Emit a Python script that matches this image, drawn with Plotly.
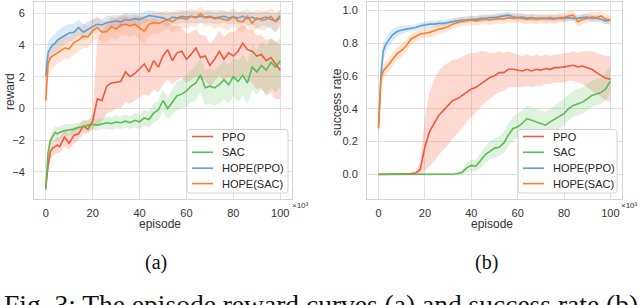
import plotly.graph_objects as go

# ---------------- data ----------------
episodes = [0, 1, 2, 3, 4, 5, 6, 8, 10, 12, 14, 16, 18, 20, 22, 24, 26, 28, 30, 32, 34, 36, 38, 40,
            42, 44, 46, 48, 50, 52, 54, 56, 58, 60, 62, 64, 66, 68, 70, 72, 74, 76, 78, 80,
            82, 84, 86, 88, 90, 92, 94, 96, 98, 100]
x_ticks = [0, 20, 40, 60, 80, 100]
reward_ticks = [-4, -2, 0, 2, 4, 6]
success_ticks = [0.0, 0.2, 0.4, 0.6, 0.8, 1.0]
series_names = ["PPO", "SAC", "HOPE(PPO)", "HOPE(SAC)"]

# (a) reward
rew_ppo = [-5.0, -3.6, -2.7, -2.5, -2.4, -2.3, -2.4, -1.8, -2.2, -1.7, -1.6, -1.1, -1.3, -0.8, 0.6, 0.5,
           1.4, 1.6, 1.65, 1.7, 2.3, 2.0, 2.2, 2.5, 2.8, 2.3, 3.0, 2.6, 3.3, 3.7, 3.0, 3.5, 3.6, 3.1,
           3.4, 3.8, 3.2, 3.3, 2.7, 3.1, 3.6, 3.1, 3.5, 3.3, 3.6, 4.1, 3.7, 3.6, 3.3, 3.4, 3.0, 3.2, 2.8, 2.4]
rew_ppo_lo = [-5.3, -4.0, -3.2, -3.0, -2.9, -2.8, -2.8, -2.4, -2.6, -2.2, -2.0, -1.6, -1.6, -1.3, -1.0, -0.8,
              -0.3, -0.2, 0.0, 0.0, 0.4, 0.3, 0.5, 0.7, 0.9, 0.8, 1.2, 1.0, 1.5, 1.8, 1.5, 1.8, 1.9, 1.6,
              1.8, 2.0, 1.8, 1.8, 1.4, 1.7, 2.1, 1.7, 2.0, 1.8, 1.9, 2.2, 1.8, 1.6, 1.2, 1.3, 0.8, 1.0, 0.6, 0.6]
rew_ppo_hi = [-4.7, -3.2, -2.2, -2.0, -1.9, -1.8, -1.8, -1.3, -1.6, -1.2, -1.1, -0.7, -0.8, -0.3, 4.3, 4.9,
              5.3, 5.6, 5.7, 5.8, 5.8, 5.7, 5.8, 5.8, 5.8, 5.6, 5.7, 5.5, 5.4, 5.5, 5.2, 5.2, 5.1, 4.7,
              4.8, 5.0, 4.6, 4.6, 4.1, 4.4, 4.9, 4.5, 4.8, 4.8, 5.0, 5.3, 5.0, 4.9, 4.6, 4.6, 4.3, 4.4, 4.2, 4.0]

rew_sac = [-5.1, -2.8, -2.0, -1.7, -1.5, -1.6, -1.5, -1.4, -1.35, -1.3, -1.2, -1.15, -1.05, -1.0, -1.05, -0.95,
           -0.9, -0.95, -0.85, -0.9, -0.8, -0.9, -0.75, -0.85, -0.6, -0.7, -0.3, -0.1, 0.5, 0.0, 0.4, 0.8,
           0.9, 1.1, 1.4, 1.6, 2.1, 1.3, 1.4, 1.3, 1.5, 1.8, 1.5, 2.0, 1.7, 2.1, 1.6, 2.6, 2.3, 2.7, 2.4, 2.9, 2.6, 3.0]
rew_sac_lo = [-5.4, -3.2, -2.4, -2.1, -1.9, -2.0, -1.9, -1.8, -1.7, -1.65, -1.55, -1.5, -1.4, -1.35, -1.4, -1.3,
              -1.3, -1.35, -1.25, -1.3, -1.2, -1.3, -1.2, -1.3, -1.1, -1.2, -0.9, -0.7, -0.2, -0.7, -0.4, -0.1,
              0.0, 0.1, 0.4, 0.5, 1.0, 0.2, 0.3, 0.2, 0.3, 0.6, 0.3, 0.8, 0.4, 0.8, 0.3, 1.2, 0.9, 1.2, 0.9, 1.3, 1.0, 1.4]
rew_sac_hi = [-4.8, -2.4, -1.6, -1.3, -1.1, -1.2, -1.1, -1.0, -1.0, -0.95, -0.85, -0.8, -0.7, -0.65, -0.7, -0.6,
              -0.5, -0.55, -0.45, -0.5, -0.4, -0.5, -0.3, -0.4, -0.1, -0.2, 0.3, 0.5, 1.2, 0.7, 1.2, 1.7,
              1.8, 2.1, 2.4, 2.7, 3.2, 2.4, 2.5, 2.4, 2.7, 3.0, 2.7, 3.2, 3.0, 3.4, 2.9, 4.0, 3.7, 4.2, 3.9, 4.4, 4.2, 4.4]

rew_hppo = [2.0, 3.5, 3.8, 4.0, 4.1, 4.3, 4.4, 4.6, 4.75, 4.8, 5.1, 4.8, 5.0, 5.15, 5.3, 5.25,
            5.4, 5.45, 5.5, 5.45, 5.6, 5.55, 5.65, 5.6, 5.75, 5.85, 5.8, 5.75, 5.7, 5.55, 5.75, 5.7,
            5.8, 5.75, 5.8, 5.75, 5.8, 5.75, 5.8, 5.7, 5.75, 5.8, 5.7, 5.75, 5.7, 5.8, 5.65, 5.75, 5.6, 5.7, 5.75, 5.6, 5.5, 5.85]
rew_hppo_lo = [0.3, 2.8, 3.2, 3.4, 3.5, 3.7, 3.8, 4.0, 4.2, 4.3, 4.6, 4.3, 4.5, 4.7, 4.9, 4.8,
               5.0, 5.05, 5.1, 5.05, 5.2, 5.15, 5.25, 5.2, 5.35, 5.45, 5.4, 5.35, 5.3, 5.15, 5.35, 5.3,
               5.4, 5.35, 5.4, 5.35, 5.4, 5.35, 5.4, 5.3, 5.35, 5.4, 5.3, 5.35, 5.3, 5.4, 5.2, 5.3, 5.0, 5.2, 5.2, 5.0, 4.8, 5.4]
rew_hppo_hi = [3.0, 4.2, 4.4, 4.6, 4.7, 4.9, 5.0, 5.2, 5.3, 5.35, 5.6, 5.3, 5.5, 5.6, 5.7, 5.65,
               5.8, 5.85, 5.9, 5.85, 6.0, 5.95, 6.0, 6.0, 6.1, 6.2, 6.15, 6.1, 6.05, 5.95, 6.1, 6.05,
               6.15, 6.1, 6.15, 6.1, 6.15, 6.1, 6.15, 6.05, 6.1, 6.15, 6.05, 6.1, 6.05, 6.15, 6.0, 6.1, 6.0, 6.05, 6.1, 6.0, 5.95, 6.2]

rew_hsac = [0.5, 2.8, 3.2, 3.3, 3.4, 3.5, 3.6, 3.8, 3.75, 4.15, 4.3, 4.55, 4.5, 4.9, 5.1, 4.8,
            4.85, 5.15, 5.0, 5.25, 5.3, 5.2, 5.3, 5.1, 4.85, 5.3, 5.4, 5.35, 5.5, 5.6, 5.45, 5.65,
            5.7, 5.6, 5.8, 5.7, 5.95, 5.7, 5.75, 5.65, 5.7, 5.6, 5.55, 5.8, 5.5, 5.45, 5.8, 5.35, 5.7, 5.55, 5.6, 5.8, 5.45, 5.7]
rew_hsac_lo = [-0.5, 1.8, 2.4, 2.6, 2.7, 2.8, 2.9, 3.1, 3.1, 3.4, 3.6, 3.8, 3.8, 4.2, 4.4, 4.1,
               4.2, 4.5, 4.3, 4.6, 4.6, 4.5, 4.6, 4.3, 4.1, 4.6, 4.7, 4.7, 4.9, 5.0, 4.8, 5.0,
               5.1, 5.0, 5.2, 5.1, 5.4, 5.1, 5.2, 5.0, 5.1, 5.0, 4.9, 5.2, 4.9, 4.8, 5.2, 4.7, 5.1, 4.9, 5.0, 5.2, 4.8, 5.1]
rew_hsac_hi = [1.5, 3.6, 4.0, 4.1, 4.2, 4.3, 4.4, 4.6, 4.5, 4.9, 5.0, 5.3, 5.2, 5.6, 5.8, 5.5,
               5.5, 5.8, 5.7, 5.9, 5.95, 5.85, 5.95, 5.8, 5.6, 5.95, 6.0, 6.0, 6.1, 6.15, 6.05, 6.2,
               6.25, 6.15, 6.3, 6.2, 6.4, 6.2, 6.25, 6.2, 6.2, 6.15, 6.1, 6.3, 6.05, 6.05, 6.3, 6.0, 6.25, 6.1, 6.15, 6.3, 6.05, 6.2]

# (b) success rate
suc_ppo = [0.0, 0.0, 0.0, 0.0, 0.0, 0.0, 0.0, 0.002, 0.003, 0.004, 0.005, 0.008, 0.03, 0.17, 0.26, 0.31,
           0.36, 0.39, 0.42, 0.45, 0.46, 0.48, 0.5, 0.52, 0.53, 0.55, 0.57, 0.59, 0.6, 0.62, 0.62, 0.64,
           0.64, 0.635, 0.63, 0.64, 0.63, 0.64, 0.635, 0.645, 0.64, 0.65, 0.65, 0.655, 0.66, 0.665, 0.655, 0.66,
           0.65, 0.64, 0.62, 0.6, 0.585, 0.58]
suc_ppo_lo = [0.0, 0.0, 0.0, 0.0, 0.0, 0.0, 0.0, 0.0, 0.0, 0.0, 0.0, 0.0, 0.0, 0.02, 0.05, 0.08,
              0.12, 0.15, 0.18, 0.22, 0.25, 0.28, 0.32, 0.35, 0.38, 0.41, 0.44, 0.46, 0.48, 0.5, 0.51, 0.53,
              0.53, 0.53, 0.53, 0.54, 0.53, 0.54, 0.54, 0.55, 0.55, 0.56, 0.56, 0.56, 0.57, 0.57, 0.56, 0.55,
              0.53, 0.51, 0.49, 0.47, 0.45, 0.44]
suc_ppo_hi = [0.0, 0.0, 0.0, 0.0, 0.0, 0.0, 0.0, 0.005, 0.01, 0.01, 0.012, 0.02, 0.08, 0.35, 0.5, 0.58,
              0.63, 0.66, 0.68, 0.7, 0.7, 0.72, 0.73, 0.74, 0.74, 0.75, 0.75, 0.74, 0.74, 0.75, 0.74, 0.75,
              0.74, 0.73, 0.72, 0.73, 0.72, 0.73, 0.72, 0.73, 0.72, 0.73, 0.73, 0.74, 0.74, 0.75, 0.74, 0.75,
              0.75, 0.75, 0.74, 0.73, 0.72, 0.72]

suc_sac = [0.0, 0.0, 0.0, 0.0, 0.0, 0.0, 0.0, 0.0, 0.0, 0.0, 0.0, 0.0, 0.0, 0.0, 0.0, 0.0,
           0.0, 0.002, 0.0, 0.001, 0.005, 0.012, 0.04, 0.055, 0.05, 0.085, 0.12, 0.14, 0.16, 0.165, 0.19, 0.24,
           0.28, 0.29, 0.31, 0.34, 0.33, 0.32, 0.31, 0.3, 0.32, 0.335, 0.35, 0.37, 0.4, 0.42, 0.43, 0.44,
           0.46, 0.48, 0.49, 0.5, 0.52, 0.57]
suc_sac_lo = [0.0, 0.0, 0.0, 0.0, 0.0, 0.0, 0.0, 0.0, 0.0, 0.0, 0.0, 0.0, 0.0, 0.0, 0.0, 0.0,
              0.0, 0.0, 0.0, 0.0, 0.0, 0.0, 0.01, 0.02, 0.02, 0.04, 0.07, 0.09, 0.1, 0.11, 0.13, 0.17,
              0.21, 0.22, 0.24, 0.27, 0.26, 0.25, 0.24, 0.23, 0.25, 0.26, 0.28, 0.3, 0.33, 0.35, 0.36, 0.37,
              0.39, 0.41, 0.42, 0.43, 0.45, 0.5]
suc_sac_hi = [0.003, 0.003, 0.003, 0.003, 0.003, 0.003, 0.003, 0.003, 0.003, 0.003, 0.003, 0.003, 0.003, 0.003, 0.003, 0.003,
              0.003, 0.006, 0.003, 0.005, 0.015, 0.03, 0.07, 0.09, 0.09, 0.13, 0.17, 0.2, 0.22, 0.23, 0.26, 0.31,
              0.35, 0.37, 0.39, 0.42, 0.41, 0.4, 0.39, 0.38, 0.4, 0.42, 0.44, 0.46, 0.49, 0.51, 0.52, 0.53,
              0.55, 0.57, 0.58, 0.6, 0.62, 0.66]

suc_hppo = [0.3, 0.6, 0.75, 0.79, 0.81, 0.83, 0.85, 0.87, 0.88, 0.885, 0.89, 0.895, 0.905, 0.91, 0.915, 0.915,
            0.92, 0.92, 0.925, 0.93, 0.935, 0.94, 0.94, 0.945, 0.945, 0.95, 0.95, 0.955, 0.955, 0.96, 0.965, 0.97,
            0.96, 0.955, 0.958, 0.952, 0.955, 0.95, 0.952, 0.95, 0.955, 0.95, 0.952, 0.95, 0.955, 0.95, 0.952, 0.955,
            0.958, 0.95, 0.952, 0.945, 0.935, 0.94]
suc_hppo_lo = [0.22, 0.52, 0.69, 0.74, 0.77, 0.79, 0.81, 0.84, 0.855, 0.865, 0.87, 0.875, 0.885, 0.89, 0.895, 0.895,
               0.9, 0.9, 0.905, 0.91, 0.915, 0.92, 0.92, 0.925, 0.925, 0.93, 0.93, 0.935, 0.935, 0.94, 0.945, 0.95,
               0.94, 0.935, 0.94, 0.935, 0.935, 0.93, 0.935, 0.93, 0.935, 0.93, 0.935, 0.93, 0.935, 0.93, 0.935, 0.935,
               0.94, 0.93, 0.935, 0.925, 0.915, 0.92]
suc_hppo_hi = [0.36, 0.68, 0.8, 0.83, 0.85, 0.87, 0.885, 0.9, 0.905, 0.91, 0.91, 0.915, 0.925, 0.93, 0.935, 0.935,
               0.94, 0.94, 0.945, 0.95, 0.955, 0.96, 0.96, 0.965, 0.965, 0.97, 0.97, 0.975, 0.975, 0.98, 0.985, 0.99,
               0.98, 0.975, 0.978, 0.972, 0.975, 0.97, 0.972, 0.97, 0.975, 0.97, 0.972, 0.97, 0.975, 0.97, 0.972, 0.975,
               0.978, 0.97, 0.972, 0.965, 0.955, 0.96]

suc_hsac = [0.28, 0.58, 0.63, 0.645, 0.66, 0.68, 0.7, 0.735, 0.755, 0.785, 0.825, 0.84, 0.855, 0.86, 0.865, 0.875,
            0.885, 0.89, 0.9, 0.915, 0.925, 0.93, 0.935, 0.94, 0.935, 0.94, 0.945, 0.94, 0.945, 0.95, 0.945, 0.955,
            0.95, 0.955, 0.95, 0.945, 0.95, 0.945, 0.95, 0.948, 0.95, 0.945, 0.955, 0.955, 0.965, 0.97, 0.93, 0.945,
            0.95, 0.96, 0.955, 0.965, 0.945, 0.94]
suc_hsac_lo = [0.24, 0.52, 0.59, 0.6, 0.62, 0.64, 0.66, 0.695, 0.715, 0.75, 0.79, 0.81, 0.825, 0.83, 0.835, 0.845,
               0.855, 0.86, 0.87, 0.885, 0.895, 0.9, 0.905, 0.91, 0.905, 0.91, 0.915, 0.91, 0.915, 0.92, 0.915, 0.925,
               0.92, 0.925, 0.92, 0.915, 0.92, 0.915, 0.92, 0.918, 0.92, 0.915, 0.925, 0.925, 0.935, 0.94, 0.9, 0.915,
               0.92, 0.93, 0.925, 0.935, 0.915, 0.91]
suc_hsac_hi = [0.32, 0.64, 0.67, 0.69, 0.7, 0.72, 0.74, 0.775, 0.795, 0.82, 0.86, 0.87, 0.885, 0.89, 0.895, 0.905,
               0.915, 0.92, 0.93, 0.945, 0.955, 0.96, 0.965, 0.97, 0.965, 0.97, 0.975, 0.97, 0.975, 0.98, 0.975, 0.985,
               0.98, 0.985, 0.98, 0.975, 0.98, 0.975, 0.98, 0.978, 0.98, 0.975, 0.985, 0.985, 0.995, 1.0, 0.96, 0.975,
               0.98, 0.99, 0.985, 0.995, 0.975, 0.97]

# ---------------- style ----------------
line_colors = ["#f05a3c", "#5cba57", "#5aa2d8", "#fd7f2c"]
band_colors = ["rgba(246,110,80,0.26)", "rgba(110,195,100,0.22)",
               "rgba(110,170,225,0.25)", "rgba(255,150,90,0.25)"]

W, H = 640, 305
def px(x):
    return x / W
def py(y):
    return 1 - y / H

fig = go.Figure()

panels = [
    ("x", "y",
     [rew_ppo, rew_sac, rew_hppo, rew_hsac],
     [rew_ppo_lo, rew_sac_lo, rew_hppo_lo, rew_hsac_lo],
     [rew_ppo_hi, rew_sac_hi, rew_hppo_hi, rew_hsac_hi]),
    ("x2", "y2",
     [suc_ppo, suc_sac, suc_hppo, suc_hsac],
     [suc_ppo_lo, suc_sac_lo, suc_hppo_lo, suc_hsac_lo],
     [suc_ppo_hi, suc_sac_hi, suc_hppo_hi, suc_hsac_hi]),
]

for xa, ya, means, los, his in panels:
    for i in range(4):
        fig.add_trace(go.Scatter(
            x=episodes + episodes[::-1], y=his[i] + los[i][::-1],
            fill="toself", fillcolor=band_colors[i], line=dict(width=0),
            mode="lines", hoverinfo="skip", showlegend=False, xaxis=xa, yaxis=ya))
    for i in range(4):
        fig.add_trace(go.Scatter(
            x=episodes, y=means[i], mode="lines", name=series_names[i],
            line=dict(color=line_colors[i], width=1.6), showlegend=False,
            xaxis=xa, yaxis=ya))

axis_common = dict(showgrid=True, gridcolor="#e0e0e0", gridwidth=1, zeroline=False,
                   showline=True, linecolor="#d4d4d4", linewidth=1, mirror=True, ticks="",
                   automargin=False,
                   tickfont=dict(family="Liberation Sans", size=11, color="#333333"))

ydom = [py(199), py(2)]
fig.update_layout(
    width=W, height=H, margin=dict(l=0, r=0, t=0, b=0, pad=0),
    paper_bgcolor="white", plot_bgcolor="white", showlegend=False,
    font=dict(family="Liberation Sans", color="#333333"),
    xaxis=dict(domain=[px(34), px(292)], range=[-5, 105], tickvals=x_ticks, anchor="y",
               ticklabelstandoff=4, **axis_common),
    yaxis=dict(domain=ydom, range=[-5.7, 6.7], tickvals=reward_ticks, anchor="x",
               ticklabelstandoff=6, **axis_common),
    xaxis2=dict(domain=[px(367), px(622)], range=[-5, 105], tickvals=x_ticks, anchor="y2",
                ticklabelstandoff=4, **axis_common),
    yaxis2=dict(domain=ydom, range=[-0.15, 1.05], tickvals=success_ticks, tickformat=".1f",
                anchor="x2", ticklabelstandoff=6, **axis_common),
)

# ---------------- legends (matplotlib-style boxes) ----------------
def rounded_box(x0, y0, x1, y1, r=3):
    X0, X1 = px(x0), px(x1)
    Y0, Y1 = py(y0), py(y1)
    rx, ry = r / W, r / H
    return (f"M {X0+rx},{Y0} L {X1-rx},{Y0} Q {X1},{Y0} {X1},{Y0-ry} "
            f"L {X1},{Y1+ry} Q {X1},{Y1} {X1-rx},{Y1} L {X0+rx},{Y1} "
            f"Q {X0},{Y1} {X0},{Y1+ry} L {X0},{Y0-ry} Q {X0},{Y0} {X0+rx},{Y0} Z")

legend_boxes = [(187, 129.5, 288, 193), (518, 129.5, 617, 193)]
item_rows = [136.5, 152.3, 168.2, 183.6]
for (bx0, by0, bx1, by1) in legend_boxes:
    fig.add_shape(type="path", path=rounded_box(bx0, by0, bx1, by1), xref="paper", yref="paper",
                  fillcolor="rgba(255,255,255,0.85)", line=dict(color="#d2d2d2", width=1))
    for i, name in enumerate(series_names):
        yy = py(item_rows[i])
        fig.add_shape(type="line", xref="paper", yref="paper",
                      x0=px(bx0 + 5), x1=px(bx0 + 26), y0=yy, y1=yy,
                      line=dict(color=line_colors[i], width=1.6))
        fig.add_annotation(xref="paper", yref="paper", showarrow=False,
                           x=px(bx0 + 34), y=yy, xanchor="left", yanchor="middle",
                           text=name, borderpad=0,
                           font=dict(family="Liberation Sans", size=11, color="#262626"))

sans = dict(family="Liberation Sans", size=12, color="#333333")
serif = "Liberation Serif"
small = dict(family="Liberation Sans", size=8, color="#333333")
annots = [
    dict(text="reward", x=px(10), y=py(92), textangle=-90, font=sans),
    dict(text="success rate", x=px(337), y=py(102), textangle=-90, font=sans),
    dict(text="episode", x=px(160), y=py(224), font=sans),
    dict(text="episode", x=px(492), y=py(224), font=sans),
    dict(text="×10³", x=px(300), y=py(205), font=small),
    dict(text="×10³", x=px(629), y=py(205), font=small),
    dict(text="(a)", x=px(156), y=py(262), font=dict(family=serif, size=20, color="#111111")),
    dict(text="(b)", x=px(486), y=py(262), font=dict(family=serif, size=20, color="#111111")),
]
for a in annots:
    fig.add_annotation(xref="paper", yref="paper", showarrow=False,
                       xanchor="center", yanchor="middle", **a)
fig.add_annotation(xref="paper", yref="paper", showarrow=False, xanchor="left", yanchor="top",
                   x=px(3), y=py(288), borderpad=0,
                   text="Fig. 3: The episode reward curves (a) and success rate (b)",
                   font=dict(family=serif, size=27.5, color="#111111"))

fig.write_html("out.html", config={"displayModeBar": False},
               post_script="document.body.style.margin='0';document.body.style.overflow='hidden';")
